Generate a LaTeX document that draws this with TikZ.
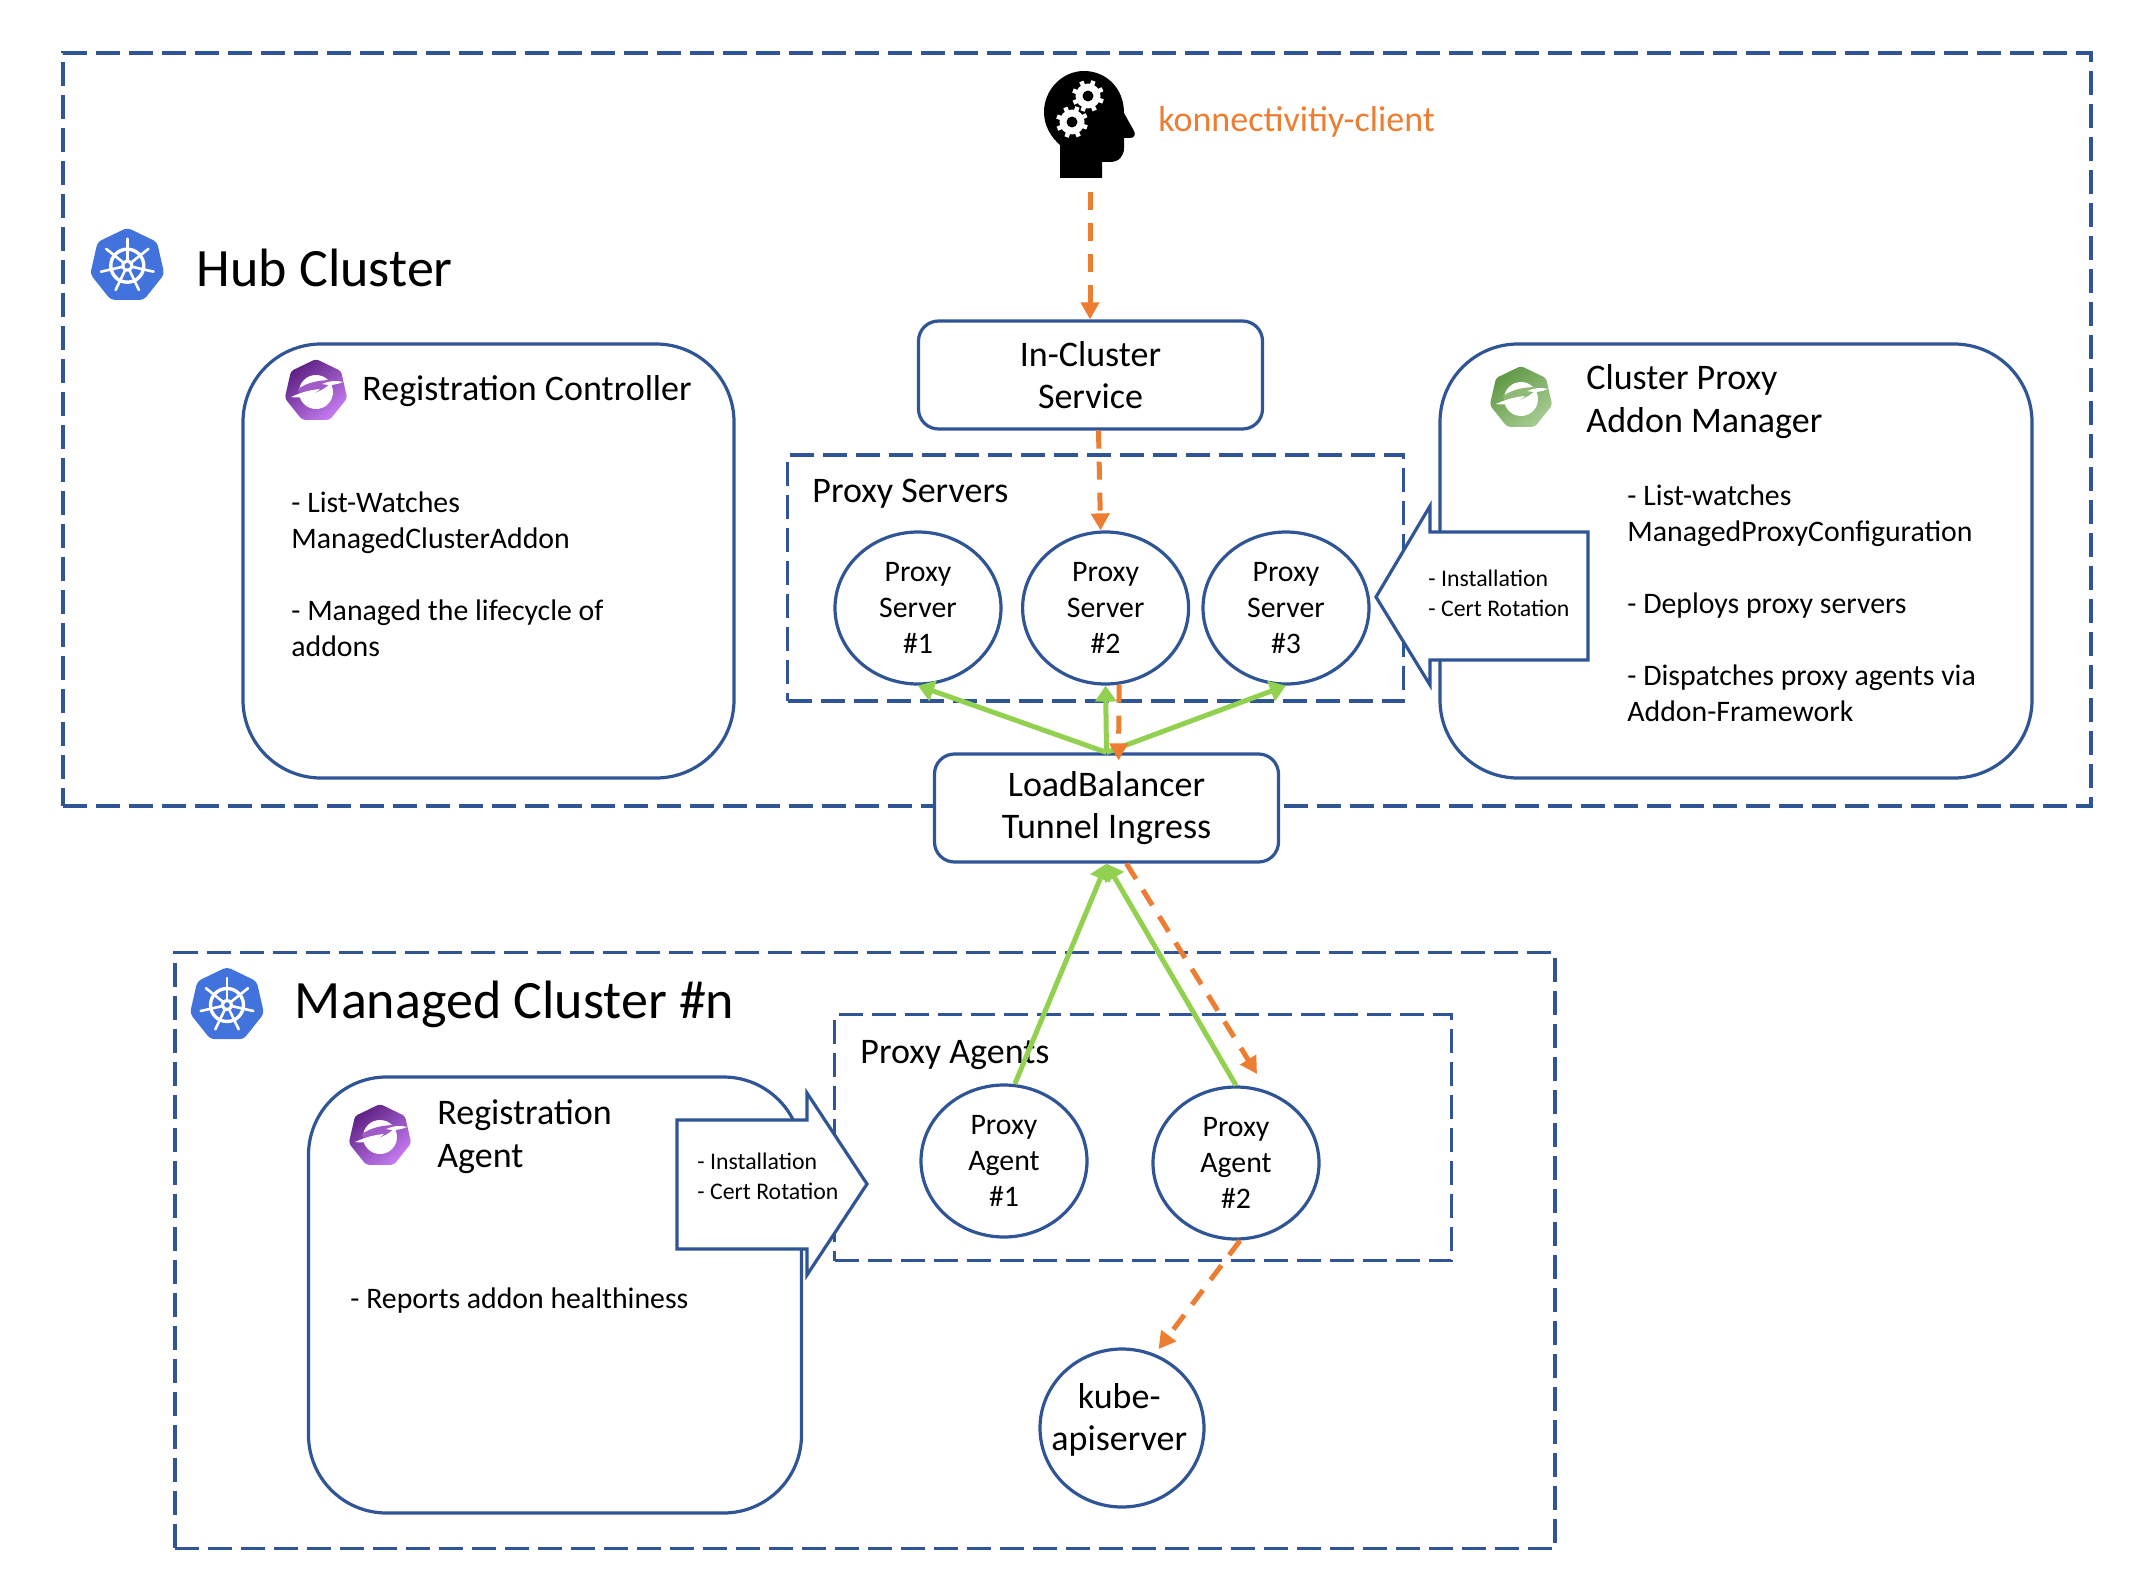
\documentclass[tikz,border=0pt]{standalone}
\usepackage{fontspec}
\setmainfont{Carlito}
\usetikzlibrary{positioning,arrows.meta,shapes.geometric}
\definecolor{framecolor}{HTML}{2F5597}
\definecolor{trafficcolor}{HTML}{ED7D31}
\definecolor{tunnelcolor}{HTML}{92D050}
\definecolor{kubecolor}{HTML}{4272DC}
\definecolor{purpledark}{HTML}{5C1F82}
\definecolor{purplelight}{HTML}{C47BF0}
\definecolor{greendark}{HTML}{5E9744}
\definecolor{greenlight}{HTML}{A7CB91}
\tikzset{%
clusterframe/.style={draw=framecolor,line width=1.6pt,dash pattern=on 12pt off 4.5pt,inner sep=0},
bigbox/.style={draw=framecolor,fill=white,line width=1.6pt,rounded corners=39pt,inner sep=0,minimum height=217pt},
smallbox/.style={draw=framecolor,fill=white,line width=1.6pt,rounded corners=10pt,minimum width=172pt,minimum height=54pt,inner sep=0,align=center,headfont},
proxynode/.style={ellipse,draw=framecolor,fill=white,line width=1.6pt,minimum width=83pt,minimum height=76pt,inner sep=0,align=center,bodyfont},
calloutbox/.style={draw=framecolor,fill=white,line width=1.6pt,line join=miter},
tunnel/.style={draw=tunnelcolor,line width=2.5pt,-{Triangle[length=8pt,width=10.5pt]}},
traffic/.style={draw=trafficcolor,line width=2.5pt,dash pattern=on 9pt off 6.5pt,-{Triangle[length=8.5pt,width=9pt]}},
textlabel/.style={inner sep=0,anchor=base west,align=left},
titlefont/.style={font=\fontsize{27}{32}\selectfont},
headfont/.style={font=\fontsize{18}{21.3}\selectfont},
bodyfont/.style={font=\fontsize{14.9}{18}\selectfont},
tinyfont/.style={font=\fontsize{11.9}{15}\selectfont}
}
\newcommand{\heptagonpath}[1]{(-90:#1) -- (-38.57:#1) -- (12.86:#1) -- (64.29:#1) -- (115.71:#1) -- (167.14:#1) -- (218.57:#1) -- cycle}
% kubernetes wheel
\newcommand{\kubeicon}[1]{%
  \begin{scope}[shift={(#1)}]
    \fill[kubecolor,rounded corners=2pt] \heptagonpath{38};
    \draw[white,line width=1.7pt] (0,0) circle (16.5);
    \foreach \a in {0,...,6}
      \draw[white,line width=1.3pt,line cap=round] (0,0) -- ({-90+\a*360/7}:27);
    \fill[white] (0,0) circle (6);
    \fill[kubecolor] (0,0) circle (2.8);
  \end{scope}}
% addon icon, dark and light colour
\newcommand{\addonicon}[3]{%
  \begin{scope}[shift={(#1)}]
    \shade[rounded corners=1.5pt,left color=#2,right color=#3,shading angle=40] \heptagonpath{32};
    \fill[white] (0,1) circle (17);
    \fill[#2!35!#3] (-18,-2) .. controls (-8,-9) and (4,-11) .. (16,-11) .. controls (12,-3) and (2,2) .. (-16,6) -- cycle;
    \fill[white] (-25,6) .. controls (-14,1) and (-6,-1) .. (4,-2) .. controls (-2,4) and (-14,8) .. (-25,6) -- cycle;
    \fill[white] (6,-7) .. controls (13,-10) and (20,-11) .. (27,-9) .. controls (20,-6) and (13,-5) .. (6,-7) -- cycle;
  \end{scope}}
\newcommand{\headgear}[1]{%
  \begin{scope}[shift={(#1)}]
    \foreach \a in {0,45,...,315}
      \draw[white,line width=2.2pt] (0,0) -- ({\a+20}:16);
    \fill[white] (0,0) circle (12.5);
    \fill[black] (0,0) circle (5.5);
  \end{scope}}

\begin{document}
\begin{tikzpicture}[x=0.5pt,y=-0.5pt]
  \useasboundingbox (0,0) rectangle (2154,1584);

  \node[clusterframe,minimum width=1014pt,minimum height=376.5pt] (hub) at (1077,429.5) {};
  \node[clusterframe,minimum width=690pt,minimum height=298pt] (managed) at (865,1250.5) {};
  \node[clusterframe,minimum width=308pt,minimum height=123pt] (servers) at (1095.5,578) {};
  \node[clusterframe,minimum width=308.5pt,minimum height=123pt] (agents) at (1143,1137.5) {};

  \kubeicon{127.3,265.7}
  \kubeicon{227,1005}
  \node[textlabel,titlefont] (hublabel) at (196.5,286) {Hub Cluster};
  \node[textlabel,titlefont] (managedlabel) at (294.5,1018) {Managed Cluster \#n};

  % client on top
  \fill[black] (1060,178) -- (1102,178) -- (1102,162) -- (1110,162)
    .. controls (1119,162) and (1124,156) .. (1124,148) -- (1124,138) -- (1130,138)
    .. controls (1134,138) and (1136,135) .. (1134,131) -- (1124,113)
    .. controls (1124,88) and (1106,71) .. (1084,71)
    .. controls (1062,71) and (1044,90) .. (1044,112)
    .. controls (1044,126) and (1051,137) .. (1060,145) -- cycle;
  \headgear{1088,96}
  \headgear{1072,122}
  \coordinate (client) at (1090,192);
  \node[textlabel,headfont,text=trafficcolor] (clientlabel) at (1158,131.5) {konnectivitiy-client};

  \node[bigbox,minimum width=245.5pt] (regctrl) at (488.5,561) {};
  \node[bigbox,minimum width=296pt] (addonmgr) at (1736,561) {};
  \node[bigbox,minimum width=246.5pt,minimum height=218pt] (regagent) at (555,1295) {};

  \addonicon{316,391}{purpledark}{purplelight}
  \addonicon{1521,398}{greendark}{greenlight}
  \addonicon{380,1136}{purpledark}{purplelight}

  \node[textlabel,headfont] (regctrllabel) at (362,400) {Registration Controller};
  \node[textlabel,bodyfont] (regctrltext) at (291,656) {- List-Watches\\ManagedClusterAddon\\[18pt]- Managed the lifecycle of\\addons};
  \node[textlabel,headfont] (addonmgrlabel) at (1586,432) {Cluster Proxy\\Addon Manager};
  \node[textlabel,bodyfont] (addonmgrtext) at (1627,721) {- List-watches\\ManagedProxyConfiguration\\[18pt]- Deploys proxy servers\\[18pt]- Dispatches proxy agents via\\Addon-Framework};
  \node[textlabel,headfont] (regagentlabel) at (437,1167) {Registration\\Agent};
  \node[textlabel,bodyfont] (regagenttext) at (350,1308) {- Reports addon healthiness};

  \node[textlabel,headfont] (serverslabel) at (812,502) {Proxy Servers};
  \node[textlabel,headfont] (agentslabel) at (860,1063) {Proxy Agents};

  \node[smallbox] (incluster) at (1090.5,375) {In-Cluster\\Service};
  \node[smallbox] (lb) at (1106.5,808) {LoadBalancer\\Tunnel Ingress};

  \node[proxynode] (server1) at (918,608) {Proxy\\Server\\\#1};
  \node[proxynode,right=9.2pt of server1] (server2) {Proxy\\Server\\\#2};
  \node[proxynode,right=5.6pt of server2] (server3) {Proxy\\Server\\\#3};
  \node[proxynode] (agent1) at (1004,1161) {Proxy\\Agent\\\#1};
  \node[proxynode] (agent2) at (1236,1163) {Proxy\\Agent\\\#2};
  \node[proxynode,minimum width=82pt,minimum height=79pt] (kube) at (1122,1428) {};
  \node[inner sep=0,align=center,headfont] (kubetext) at ([xshift=-1.4pt,yshift=4pt]kube.center) {kube-\\apiserver};

  % the two block arrows
  \draw[calloutbox] (1588,532) -- (1430,532) -- (1430,506) -- (1376,597) -- (1430,685) -- (1430,660) -- (1588,660) -- cycle;
  \node[textlabel,tinyfont] (hubcallout) at (1428,616) {- Installation\\- Cert Rotation};
  \draw[calloutbox] (677,1120) -- (807,1120) -- (807,1093) -- (867,1184) -- (807,1275) -- (807,1249) -- (677,1249) -- cycle;
  \node[textlabel,tinyfont] (agentcallout) at (697,1199) {- Installation\\- Cert Rotation};

  \coordinate (agent2in) at (1257,1074);
  \draw[tunnel] (lb.north) -- (server1.south);
  \draw[tunnel] (lb.north) -- (server2.south);
  \draw[tunnel] (lb.north) -- (server3.south);
  \draw[tunnel] (agent1.82) -- (lb.south);
  \draw[tunnel] (agent2.north) -- (lb.south);

  \draw[traffic] (client) -- (client |- incluster.north);
  \draw[traffic] ([xshift=4pt]incluster.south) -- ([xshift=-2.5pt]server2.north);
  \draw[traffic] (server2.-80) -- ([xshift=6pt,yshift=-4pt]lb.north);
  \draw[traffic] ([xshift=10pt]lb.south) -- (agent2in);
  \draw[traffic,shorten >=3pt] ([xshift=2pt]agent2.south) -- (kube.66);
\end{tikzpicture}
\end{document}
